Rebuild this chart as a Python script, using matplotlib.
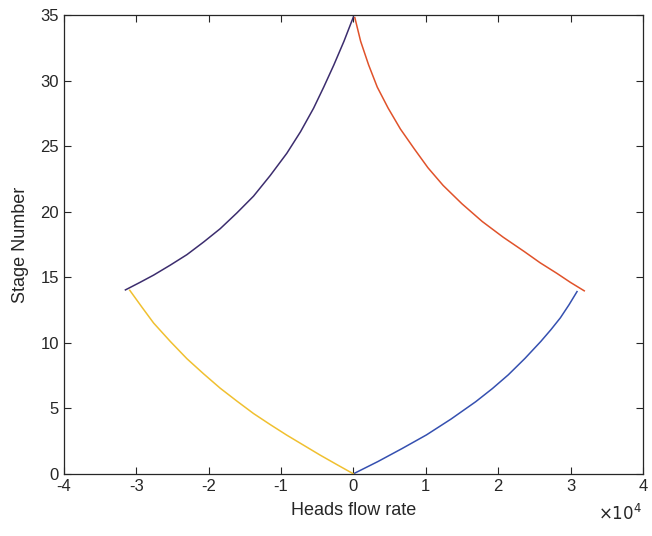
import matplotlib
matplotlib.use('Agg')
import numpy as np
import matplotlib.pyplot as plt
from matplotlib.ticker import FuncFormatter

# stripping section, vapour side (x > 0, stages 0-14)
strip_v_flow = [0, 3400, 6700, 10100, 13500, 16900, 19200, 21400, 23700,
                25900, 27300, 28600, 29800, 30900]
strip_v_stage = [0, 0.94, 1.92, 2.97, 4.18, 5.5, 6.5, 7.55, 8.8,
                 10.1, 11.0, 11.9, 12.9, 13.9]

# stripping section, liquid side (x < 0, stages 0-14)
strip_l_flow = [0, -2300, -4600, -6900, -9200, -11500, -13800, -16100,
                -18400, -20700, -23000, -25300, -27600, -29200, -30900]
strip_l_stage = [0, 0.71, 1.43, 2.19, 2.95, 3.76, 4.6, 5.55,
                 6.53, 7.63, 8.78, 10.1, 11.5, 12.7, 14.0]

# rectifying section, vapour side (x > 0, stages 14-35)
rect_v_flow = [31900, 30000, 28100, 25800, 23600, 20700, 17800, 15000,
               12400, 10300, 8400, 6500, 4800, 3300, 2100, 1000, 200]
rect_v_stage = [13.96, 14.6, 15.3, 16.1, 16.96, 18.05, 19.25, 20.6,
                22.0, 23.35, 24.8, 26.3, 27.9, 29.5, 31.2, 33.0, 34.8]

# rectifying section, liquid side (x < 0, stages 14-35)
rect_l_flow = [-31500, -29500, -27600, -25300, -23000, -20700, -18400,
               -16100, -13800, -11500, -9200, -7300, -5500, -4100, -2700,
               -1300, 0]
rect_l_stage = [14.03, 14.6, 15.16, 15.92, 16.72, 17.68, 18.7,
                19.9, 21.18, 22.75, 24.45, 26.1, 27.89, 29.5, 31.19,
                33.0, 34.85]

plt.rcParams['font.family'] = ['Liberation Sans', 'DejaVu Sans']
plt.rcParams['axes.unicode_minus'] = False

fig = plt.figure(figsize=(6.52, 5.36), dpi=100)
ax = fig.add_axes([0.098, 0.116, 0.888, 0.856])

ax.plot(strip_v_flow, strip_v_stage, color='#3550b0', lw=1.1)
ax.plot(strip_l_flow, strip_l_stage, color='#f0c030', lw=1.1)
ax.plot(rect_v_flow, rect_v_stage, color='#e0522a', lw=1.1)
ax.plot(rect_l_flow, rect_l_stage, color='#3c2d6e', lw=1.1)

ax.set_xlim(-40000, 40000)
ax.set_ylim(0, 35)
ax.set_xticks(np.arange(-40000, 40001, 10000))
ax.set_yticks(np.arange(0, 36, 5))
ax.xaxis.set_major_formatter(FuncFormatter(lambda v, p: '%g' % (v / 1e4)))

ax.tick_params(direction='in', top=True, right=True, labelsize=12,
               colors='#262626', length=5, width=0.8)
for s in ax.spines.values():
    s.set_color('#262626')
    s.set_linewidth(0.9)

ax.set_xlabel('Heads flow rate', fontsize=13, color='#262626', labelpad=6)
ax.set_ylabel('Stage Number', fontsize=13, color='#262626', labelpad=8)
fig.text(0.985, 0.025, r'$\times10^{4}$', fontsize=12, color='#262626',
         ha='right', va='bottom')

fig.savefig('out.png', dpi=100)
